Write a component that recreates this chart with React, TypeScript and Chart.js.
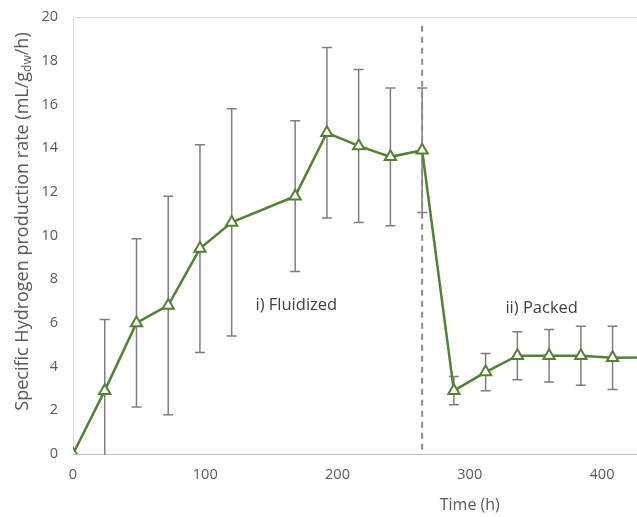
import React, { useEffect, useRef } from "react";
import { Chart, registerables } from "chart.js";

Chart.register(...registerables);

// ---- data ----
const timeHours = [0, 24, 48, 72, 96, 120, 168, 192, 216, 240, 264, 288, 312, 336, 360, 384, 408, 432];
const rateValues = [0, 2.9, 6.0, 6.8, 9.4, 10.6, 11.8, 14.7, 14.1, 13.6, 13.9, 2.9, 3.75, 4.5, 4.5, 4.5, 4.4, 4.42];
const rateErrors = [0, 3.25, 3.85, 5.0, 4.75, 5.2, 3.45, 3.9, 3.5, 3.15, 2.85, 0.65, 0.85, 1.1, 1.2, 1.35, 1.45, 1.4];
const phaseChangeTime = 264;
const phaseChangeTop = 19.6;
const phaseLabels = ["i) Fluidized", "ii) Packed"];
const phaseLabelTimes = [138, 327];
const phaseLabelRates = [6.8, 6.65];
const xAxisTitle = "Time (h)";
const yTitleMain = "Specific Hydrogen production rate (mL/g";
const yTitleSub = "dw";
const yTitleEnd = "/h)";

const FONT = "'Open Sans', sans-serif";
const GREEN = "#538135";

const overlayPlugin = {
  id: "overlay",
  beforeDatasetsDraw(chart: any) {
    const { ctx, chartArea, scales } = chart;
    const xs = scales.x;
    const ys = scales.y;
    ctx.save();
    // chart area border
    ctx.strokeStyle = "#d9d9d9";
    ctx.lineWidth = 1;
    ctx.beginPath();
    ctx.moveTo(chartArea.left + 0.5, chartArea.bottom);
    ctx.lineTo(chartArea.left + 0.5, chartArea.top + 0.5);
    ctx.lineTo(chartArea.right, chartArea.top + 0.5);
    ctx.stroke();
    ctx.strokeStyle = "#bfbfbf";
    ctx.beginPath();
    ctx.moveTo(chartArea.left, chartArea.bottom + 0.5);
    ctx.lineTo(chartArea.right, chartArea.bottom + 0.5);
    ctx.stroke();

    // error bars
    ctx.beginPath();
    ctx.rect(chartArea.left, chartArea.top, chartArea.right - chartArea.left, chartArea.bottom - chartArea.top + 1);
    ctx.clip();
    ctx.strokeStyle = "#7f7f7f";
    ctx.lineWidth = 1.5;
    timeHours.forEach((t, i) => {
      const e = rateErrors[i];
      if (!e) return;
      const x = xs.getPixelForValue(t);
      const yTop = ys.getPixelForValue(rateValues[i] + e);
      const yBot = ys.getPixelForValue(rateValues[i] - e);
      ctx.beginPath();
      ctx.moveTo(x, yTop);
      ctx.lineTo(x, yBot);
      ctx.moveTo(x - 5, yTop);
      ctx.lineTo(x + 5, yTop);
      ctx.moveTo(x - 5, yBot);
      ctx.lineTo(x + 5, yBot);
      ctx.stroke();
    });

    // phase change dashed line
    ctx.strokeStyle = "#8c8c8c";
    ctx.lineWidth = 2;
    ctx.setLineDash([6, 5]);
    const px = xs.getPixelForValue(phaseChangeTime);
    ctx.beginPath();
    ctx.moveTo(px, ys.getPixelForValue(phaseChangeTop));
    ctx.lineTo(px, ys.getPixelForValue(0));
    ctx.stroke();
    ctx.restore();
  },
  afterDraw(chart: any) {
    const { ctx, chartArea, scales } = chart;
    ctx.save();
    // phase labels
    ctx.fillStyle = "#404040";
    ctx.font = `16.5px ${FONT}`;
    ctx.textAlign = "left";
    ctx.textBaseline = "middle";
    phaseLabels.forEach((lab, i) => {
      ctx.fillText(lab, scales.x.getPixelForValue(phaseLabelTimes[i]), scales.y.getPixelForValue(phaseLabelRates[i]));
    });

    // y-axis title with subscript
    ctx.fillStyle = "#595959";
    const mainFont = `18px ${FONT}`;
    const subFont = `12px ${FONT}`;
    ctx.font = mainFont;
    const w1 = ctx.measureText(yTitleMain).width;
    const w3 = ctx.measureText(yTitleEnd).width;
    ctx.font = subFont;
    const w2 = ctx.measureText(yTitleSub).width;
    const total = w1 + w2 + w3;
    const cy = (chartArea.top + chartArea.bottom) / 2 - 14;
    ctx.translate(chartArea.left - 50, cy);
    ctx.rotate(-Math.PI / 2);
    ctx.textBaseline = "middle";
    let sx = -total / 2;
    ctx.font = mainFont;
    ctx.fillText(yTitleMain, sx, 0);
    sx += w1;
    ctx.font = subFont;
    ctx.fillText(yTitleSub, sx, 5);
    sx += w2;
    ctx.font = mainFont;
    ctx.fillText(yTitleEnd, sx, 0);
    ctx.restore();
  },
};

export default function App() {
  const canvasRef = useRef<HTMLCanvasElement | null>(null);

  useEffect(() => {
    if (!canvasRef.current) return;
    const chart = new Chart(canvasRef.current, {
      type: "line",
      data: {
        datasets: [
          {
            data: timeHours.map((t, i) => ({ x: t, y: rateValues[i] })),
            borderColor: GREEN,
            borderWidth: 2.5,
            pointStyle: "triangle",
            pointRadius: 6.5,
            pointBorderWidth: 2,
            pointBackgroundColor: "#ffffff",
            pointBorderColor: GREEN,
            tension: 0,
          },
        ],
      },
      options: {
        animation: false,
        responsive: false,
        layout: { padding: { top: 17, left: 0, right: 0, bottom: 0 } },
        plugins: { legend: { display: false }, tooltip: { enabled: false } },
        scales: {
          x: {
            type: "linear",
            min: 0,
            max: 600,
            grid: { display: false, drawTicks: false },
            border: { display: false },
            ticks: { stepSize: 100, padding: 12, color: "#595959", font: { family: FONT, size: 14.5 }, includeBounds: false },
            title: { display: true, text: xAxisTitle, color: "#595959", font: { family: FONT, size: 16 }, padding: { top: 0, bottom: 2 } },
            afterFit(scale: any) {
              scale.height = 63;
              scale.paddingLeft = 0;
              scale.paddingRight = 0;
            },
          },
          y: {
            min: 0,
            max: 20,
            grid: { display: false, drawTicks: false },
            border: { display: false },
            ticks: { stepSize: 2, padding: 15, color: "#595959", font: { family: FONT, size: 14.5 } },
            afterFit(scale: any) {
              scale.width = 73;
              scale.paddingTop = 0;
              scale.paddingBottom = 0;
            },
          },
        },
      },
      plugins: [overlayPlugin],
    });
    return () => chart.destroy();
  }, []);

  return (
    <div style={{ position: "absolute", left: 0, top: 0, width: 637, height: 517, overflow: "hidden", background: "#fff" }}>
      <canvas ref={canvasRef} width={875} height={517} style={{ display: "block" }} />
    </div>
  );
}
